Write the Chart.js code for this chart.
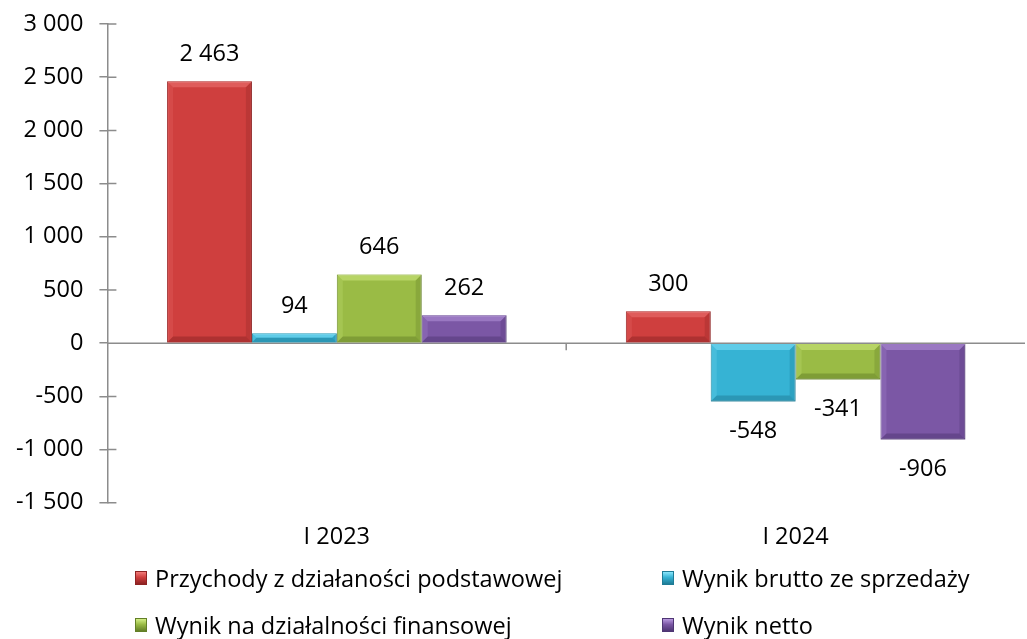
<!DOCTYPE html>
<html lang="pl">
<head>
<meta charset="utf-8">
<script src="https://cdn.jsdelivr.net/npm/chart.js@4.4.1/dist/chart.umd.min.js"></script>
<style>
    html, body { margin: 0; padding: 0; background: #ffffff; }
    #wrap { position: relative; width: 1027px; height: 639px; font-family: "Open Sans", Lato, sans-serif; }
    #chartBox { position: absolute; left: 0; top: 0; width: 1027px; height: 563px; }
    #legend { position: absolute; left: 0; top: 555px; width: 1027px; height: 84px; }
    .legend-item { position: absolute; display: flex; align-items: center; font-size: 23.5px; color: #000; white-space: nowrap; }
    .legend-box { width: 12px; height: 14px; margin-right: 8px; box-sizing: border-box; }
</style>
</head>
<body>
<div id="wrap">
    <div id="chartBox"><canvas id="chart"></canvas></div>
    <div id="legend"></div>
</div>
<script>
const categories = ['I 2023', 'I 2024'];
const seriesNames = [
    'Przychody z działaności podstawowej',
    'Wynik brutto ze sprzedaży',
    'Wynik na działalności finansowej',
    'Wynik netto'
];
const przychody = [2463, 300];
const wynikBrutto = [94, -548];
const wynikFinansowy = [646, -341];
const wynikNetto = [262, -906];
const seriesColors = ['#cf3f3e', '#36b3d4', '#9abb45', '#7b57a5'];
const seriesDark = ['#8e2323', '#1f7c96', '#637f27', '#4f3674'];
const seriesLight = ['#f07a78', '#8ae6fb', '#d3ee86', '#b99ae0'];
const yTicks = [-1500, -1000, -500, 0, 500, 1000, 1500, 2000, 2500, 3000];

const seriesValues = [przychody, wynikBrutto, wynikFinansowy, wynikNetto];
const FONT = '"Open Sans", Lato, sans-serif';
const FONT_SIZE = 23.5;

function formatPl(value) {
    const sign = value < 0 ? '-' : '';
    return sign + String(Math.abs(value)).replace(/\B(?=(\d{3})+(?!\d))/g, ' ');
}

// bevel look of the Excel bars, drawn over the bar geometry Chart.js computed
const bevelPlugin = {
    id: 'bevel',
    afterDatasetsDraw(chart) {
        const ctx = chart.ctx;
        chart.data.datasets.forEach((ds, di) => {
            const meta = chart.getDatasetMeta(di);
            meta.data.forEach((bar) => {
                const left = bar.x - bar.width / 2;
                const right = bar.x + bar.width / 2;
                const top = Math.min(bar.y, bar.base);
                const bottom = Math.max(bar.y, bar.base);
                const h = bottom - top;
                const b = Math.min(6, h / 2);
                ctx.save();
                ctx.fillStyle = seriesLight[di];
                ctx.globalAlpha = 0.5;
                ctx.beginPath();
                ctx.moveTo(left, top); ctx.lineTo(right, top);
                ctx.lineTo(right - b, top + b); ctx.lineTo(left + b, top + b);
                ctx.closePath(); ctx.fill();
                ctx.globalAlpha = 0.2;
                ctx.beginPath();
                ctx.moveTo(left, top); ctx.lineTo(left + b, top + b);
                ctx.lineTo(left + b, bottom - b); ctx.lineTo(left, bottom);
                ctx.closePath(); ctx.fill();
                ctx.fillStyle = seriesDark[di];
                ctx.globalAlpha = 0.3;
                ctx.beginPath();
                ctx.moveTo(right, top); ctx.lineTo(right - b, top + b);
                ctx.lineTo(right - b, bottom - b); ctx.lineTo(right, bottom);
                ctx.closePath(); ctx.fill();
                ctx.globalAlpha = 0.5;
                ctx.beginPath();
                ctx.moveTo(left, bottom); ctx.lineTo(left + b, bottom - b);
                ctx.lineTo(right - b, bottom - b); ctx.lineTo(right, bottom);
                ctx.closePath(); ctx.fill();
                ctx.restore();
            });
        });
    }
};

// value labels above / below the bars
const valueLabelPlugin = {
    id: 'valueLabels',
    afterDatasetsDraw(chart) {
        const ctx = chart.ctx;
        ctx.save();
        ctx.font = FONT_SIZE + 'px ' + FONT;
        ctx.fillStyle = '#000000';
        ctx.textAlign = 'center';
        ctx.textBaseline = 'middle';
        chart.data.datasets.forEach((ds, di) => {
            const meta = chart.getDatasetMeta(di);
            meta.data.forEach((bar, i) => {
                const v = ds.data[i];
                const y = v >= 0 ? bar.y - 27 : bar.y + 30;
                ctx.fillText(formatPl(v), bar.x, y);
            });
        });
        ctx.restore();
    }
};

// zero line across the plot, with tick marks between categories and across the y axis
const axisPlugin = {
    id: 'zeroAxis',
    beforeDatasetsDraw(chart) {
        const ctx = chart.ctx;
        const xs = chart.scales.x;
        const ys = chart.scales.y;
        const y0 = ys.getPixelForValue(0);
        ctx.save();
        ctx.strokeStyle = '#8c8c8c';
        ctx.lineWidth = 1.5;
        ctx.beginPath();
        ctx.moveTo(xs.left, y0);
        ctx.lineTo(xs.right, y0);
        for (let i = 0; i < categories.length - 1; i++) {
            const xb = (xs.getPixelForValue(i) + xs.getPixelForValue(i + 1)) / 2;
            ctx.moveTo(xb, y0);
            ctx.lineTo(xb, y0 + 7);
        }
        yTicks.forEach((t) => {
            const yy = ys.getPixelForValue(t);
            ctx.moveTo(ys.right, yy);
            ctx.lineTo(ys.right + 9, yy);
        });
        ctx.stroke();
        ctx.restore();
    }
};

const datasets = seriesNames.map((name, i) => ({
    label: name,
    data: seriesValues[i],
    backgroundColor: seriesColors[i],
    borderColor: seriesDark[i],
    borderWidth: 1,
    categoryPercentage: 0.74,
    barPercentage: 1
}));

const chart = new Chart(document.getElementById('chart'), {
    type: 'bar',
    data: { labels: categories, datasets },
    options: {
        responsive: true,
        maintainAspectRatio: false,
        animation: false,
        layout: { padding: { top: 24, right: 2, left: 0, bottom: 0 } },
        plugins: {
            legend: { display: false },
            tooltip: { enabled: false }
        },
        scales: {
            x: {
                grid: { display: false },
                border: { display: false },
                ticks: {
                    color: '#000000',
                    font: { family: FONT, size: FONT_SIZE },
                    padding: 12
                }
            },
            y: {
                min: -1500,
                max: 3000,
                afterBuildTicks: (scale) => {
                    scale.ticks = yTicks.map((value) => ({ value }));
                },
                afterFit: (scale) => {
                    scale.paddingTop = 0;
                    scale.paddingBottom = 0;
                },
                grid: {
                    drawOnChartArea: false,
                    color: '#8c8c8c',
                    lineWidth: 1.5,
                    tickLength: 8
                },
                border: { display: true, color: '#8c8c8c', width: 1.5 },
                ticks: {
                    color: '#000000',
                    font: { family: FONT, size: FONT_SIZE },
                    padding: 16,
                    callback: (value) => formatPl(value)
                }
            }
        }
    },
    plugins: [axisPlugin, bevelPlugin, valueLabelPlugin]
});

// legend in two columns like the original
const legendEl = document.getElementById('legend');
const legendPos = [[135, 23], [662, 23], [135, 70], [662, 70]];
seriesNames.forEach((name, i) => {
    const item = document.createElement('div');
    item.className = 'legend-item';
    item.style.left = legendPos[i][0] + 'px';
    item.style.top = (legendPos[i][1] - 16) + 'px';
    const box = document.createElement('span');
    box.className = 'legend-box';
    box.style.background = `linear-gradient(${seriesLight[i]}, ${seriesColors[i]} 45%, ${seriesDark[i]})`;
    box.style.border = `1px solid ${seriesDark[i]}`;
    const text = document.createElement('span');
    text.textContent = name;
    item.appendChild(box);
    item.appendChild(text);
    legendEl.appendChild(item);
});
</script>
</body>
</html>
